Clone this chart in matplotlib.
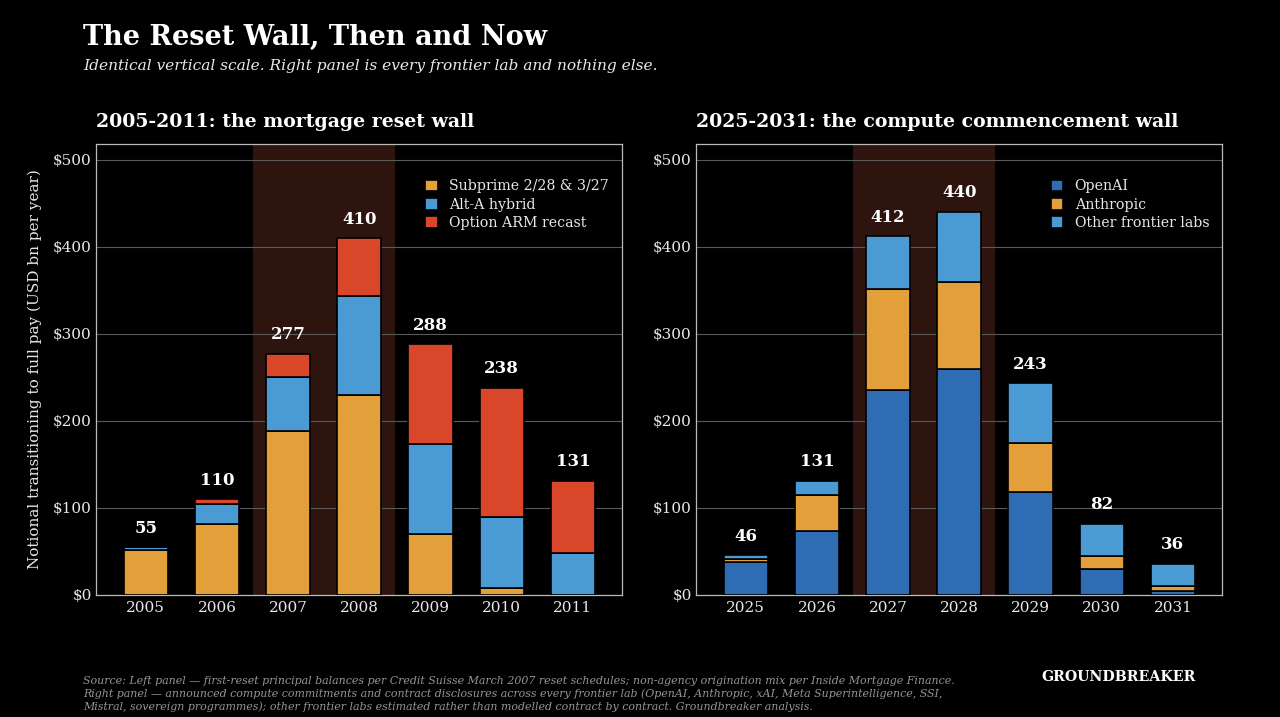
import numpy as np
import matplotlib.pyplot as plt

plt.rcParams['font.family'] = ['DejaVu Serif']

# Left panel: mortgage resets (USD bn)
years_left = ['2005', '2006', '2007', '2008', '2009', '2010', '2011']
subprime = [52, 81, 188, 230, 70, 8, 0]
alt_a = [3, 24, 62, 113, 103, 82, 48]
option_arm = [0, 5, 27, 67, 115, 148, 83]

# Right panel: compute commencements (USD bn)
years_right = ['2025', '2026', '2027', '2028', '2029', '2030', '2031']
openai = [38, 74, 235, 260, 118, 30, 5]
anthropic = [3, 41, 117, 100, 57, 15, 5]
other_labs = [5, 16, 60, 80, 68, 37, 26]

ORANGE = '#E3A03A'
LIGHTBLUE = '#4A9BD4'
RED = '#D9462A'
DARKBLUE = '#2E6DB4'
BAND = '#2D140F'
TXT = '#E8E8E8'

fig = plt.figure(figsize=(12.8, 7.17), dpi=100, facecolor='black')
ax1 = fig.add_axes([96/1280, 1-595/717, 526/1280, 451/717])
ax2 = fig.add_axes([696/1280, 1-595/717, 526/1280, 451/717])


def draw_panel(ax, years, series, labels, colors, title):
    ax.set_facecolor('black')
    x = np.arange(len(years))
    ax.axvspan(1.5, 3.5, color=BAND, zorder=0, lw=0)
    bottom = np.zeros(len(years))
    for vals, lab, col in zip(series, labels, colors):
        ax.bar(x, vals, 0.62, bottom=bottom, color=col, edgecolor='black',
               linewidth=1.2, label=lab, zorder=3)
        bottom = bottom + np.array(vals)
    for xi, tot in zip(x, bottom):
        ax.text(xi, tot + 12, f'{int(tot)}', ha='center', va='bottom',
                color='white', fontsize=12, fontweight='bold', zorder=4)
    ax.set_xlim(-0.7, 6.69)
    ax.set_ylim(0, 518)
    ax.set_xticks(x)
    ax.set_xticklabels(years)
    ax.set_yticks([0, 100, 200, 300, 400, 500])
    ax.set_yticklabels([f'${v}' for v in [0, 100, 200, 300, 400, 500]])
    ax.tick_params(colors=TXT, labelsize=11, length=0)
    ax.tick_params(axis='y', pad=3)
    ax.tick_params(axis='x', pad=4)
    ax.grid(axis='y', color='#5a5a5a', linewidth=0.8, zorder=1)
    ax.set_axisbelow(True)
    for s in ax.spines.values():
        s.set_color('#BBBBBB')
        s.set_linewidth(0.9)
    ax.set_title(title, loc='left', color='white', fontsize=13.6,
                 fontweight='bold', pad=12, x=0.0)
    leg = ax.legend(loc='upper right', bbox_to_anchor=(1.0, 0.95), frameon=False,
                    fontsize=10.2, labelcolor=TXT, handlelength=0.9,
                    handleheight=0.9, handletextpad=0.8, labelspacing=0.3)
    return leg


draw_panel(ax1, years_left, [subprime, alt_a, option_arm],
           ['Subprime 2/28 & 3/27', 'Alt-A hybrid', 'Option ARM recast'],
           [ORANGE, LIGHTBLUE, RED], '2005-2011: the mortgage reset wall')
draw_panel(ax2, years_right, [openai, anthropic, other_labs],
           ['OpenAI', 'Anthropic', 'Other frontier labs'],
           [DARKBLUE, ORANGE, LIGHTBLUE], '2025-2031: the compute commencement wall')

ax1.set_ylabel('Notional transitioning to full pay (USD bn per year)',
               color=TXT, fontsize=11, labelpad=8)

fig.text(83/1280, 1-37/717, 'The Reset Wall, Then and Now', color='white',
         fontsize=19.5, fontweight='bold', va='center', ha='left')
fig.text(83/1280, 1-66/717,
         'Identical vertical scale. Right panel is every frontier lab and nothing else.',
         color=TXT, fontsize=11.1, style='italic', va='center', ha='left')

footer = ('Source: Left panel \u2014 first-reset principal balances per Credit Suisse March 2007 '
          'reset schedules; non-agency origination mix per Inside Mortgage Finance.\n'
          'Right panel \u2014 announced compute commitments and contract disclosures across every '
          'frontier lab (OpenAI, Anthropic, xAI, Meta Superintelligence, SSI,\n'
          'Mistral, sovereign programmes); other frontier labs estimated rather than modelled '
          'contract by contract. Groundbreaker analysis.')
fig.text(83/1280, 1-694/717, footer, color='#959595', fontsize=7.9, style='italic',
         va='center', ha='left', linespacing=1.3)
fig.text(1196/1280, 1-677/717, 'GROUNDBREAKER', color='white', fontsize=10.2,
         fontweight='bold', va='center', ha='right')

fig.savefig('out.png', dpi=100, facecolor='black')
